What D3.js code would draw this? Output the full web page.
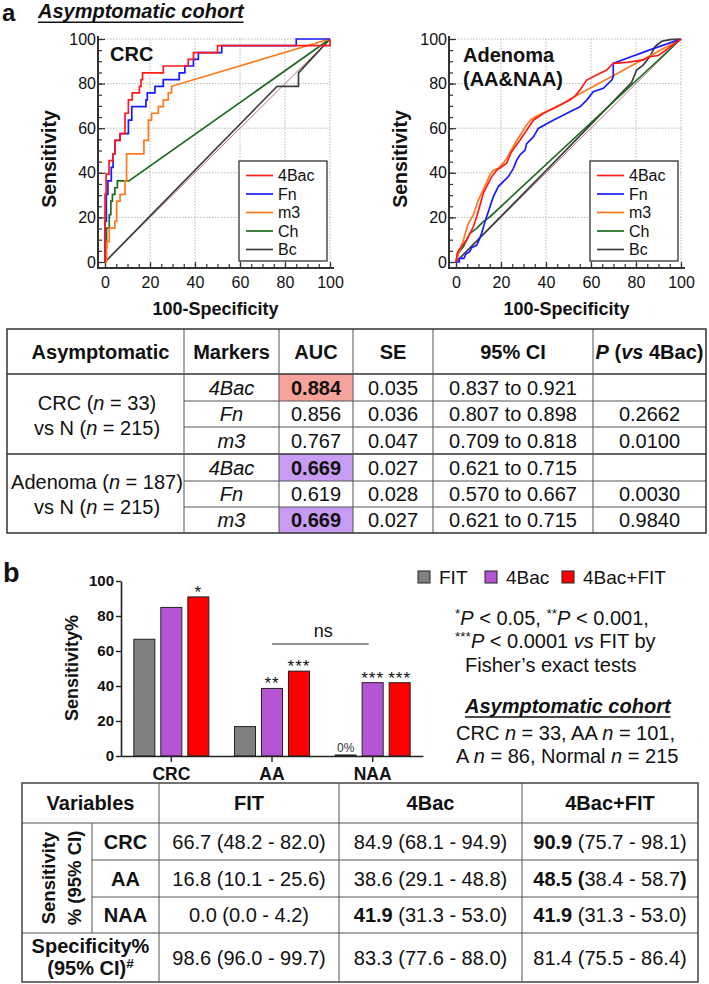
<!DOCTYPE html>
<html>
<head>
<meta charset="utf-8">
<script src="https://cdn.jsdelivr.net/npm/d3@7/dist/d3.min.js"></script>
<style>
  html, body { margin:0; padding:0; background:#fff; }
  svg { display:block; font-family:"Liberation Sans", Arial, Helvetica, sans-serif; }
  text { white-space: pre; }
</style>
</head>
<body>
<svg id="fig" width="709" height="984" viewBox="0 0 709 984"></svg>
<script>
// ================= DATA =================
const rocMarkers = ["4Bac", "Fn", "m3", "Ch", "Bc"];
const rocTicks = [0, 20, 40, 60, 80, 100];

// CRC vs N ROC curves: [100-specificity, sensitivity]
const crc4Bac = [[0,0],[0,30.3],[0.5,30.3],[0.5,39.4],[1.8,39.4],[1.8,45.5],[3.6,45.5],[3.6,48.5],[4.4,48.5],[4.4,54.5],[6.7,54.5],[6.7,57.6],[8.9,57.6],[8.9,66.7],[10.4,66.7],[10.4,72.7],[12.1,72.7],[12.1,75.8],[15.3,75.8],[15.3,78.8],[16.0,78.8],[16.0,81.8],[16.7,81.8],[16.7,84.8],[25.9,84.8],[25.9,87.9],[37.0,87.9],[37.0,90.9],[39.3,90.9],[39.3,93.9],[50.0,93.9],[50.0,97.0],[100,97.0],[100,100]];
const crcFn = [[0,0],[0,18.2],[0.6,18.2],[0.6,30.3],[1.3,30.3],[1.3,36.4],[2.8,36.4],[2.8,42.4],[3.6,42.4],[3.6,48.5],[4.4,48.5],[4.4,54.5],[6.7,54.5],[6.7,57.6],[10.4,57.6],[10.4,63.6],[11.9,63.6],[11.9,69.7],[18.2,69.7],[18.2,72.7],[18.8,72.7],[18.8,75.8],[22.2,75.8],[22.2,78.8],[25.9,78.8],[25.9,81.8],[33.0,81.8],[33.0,84.8],[35.5,84.8],[35.5,87.9],[39.3,87.9],[39.3,90.9],[41.5,90.9],[41.5,93.9],[51.9,93.9],[51.9,97.0],[85.0,97.0],[85.0,100],[100,100]];
const crcM3 = [[0,0],[0.7,0],[0.7,9.1],[1.9,9.1],[1.9,15.2],[4.4,15.2],[4.4,18.2],[5.2,18.2],[5.2,27.3],[6.7,27.3],[6.7,30.3],[8.9,30.3],[8.9,36.4],[9.6,36.4],[9.6,48.5],[17.3,48.5],[17.3,54.5],[19.3,54.5],[19.3,63.6],[20.7,63.6],[20.7,66.7],[23.7,66.7],[23.7,69.7],[25.9,69.7],[25.9,72.7],[28.1,72.7],[28.1,75.8],[29.6,75.8],[29.6,78.8],[100,100]];
const crcCh = [[0,0],[0.4,0],[0.4,6.1],[0.7,6.1],[0.7,15.2],[1.9,15.2],[1.9,21.2],[2.6,21.2],[2.6,27.3],[3.3,27.3],[3.3,30.3],[4.4,30.3],[4.4,33.3],[5.5,33.3],[5.5,36.4],[10.6,36.4],[100,100]];
const crcBc = [[0,0],[76.5,78.8],[86.0,78.8],[86.0,84.8],[100,100]];

// Adenoma vs N ROC curves
const ad4Bac = [[0,0],[0.5,3.7],[1.2,5.3],[2.5,6.9],[4.7,9.9],[6.2,12.8],[7.7,15.8],[9.2,20.3],[10.7,25.6],[12.1,30.8],[13.6,33.8],[15.9,38.3],[18.1,41.2],[20.3,42.7],[22.5,44.3],[24.3,48.7],[26.5,52.0],[28.4,54.6],[31.4,59.1],[34.4,63.6],[38.8,66.6],[44.7,69.6],[50.6,72.6],[53.0,74.5],[55.1,77.1],[58.1,81.6],[62.5,83.9],[67.0,86.1],[69.9,89.1],[76.0,89.5],[83.3,90.6],[86.2,92.1],[90.0,92.6],[100,100]];
const adFn = [[0,0],[1.5,0],[1.5,1.6],[3.5,1.6],[4.5,3.7],[6.0,4.5],[7.0,6.5],[9.2,7.5],[10.3,10.0],[11.4,12.9],[12.9,18.1],[14.4,22.6],[16.6,29.3],[18.8,33.8],[21.0,36.0],[23.3,38.3],[25.5,42.0],[27.0,45.7],[28.4,48.0],[30.7,50.2],[31.4,53.1],[34.4,56.1],[36.6,59.9],[40.3,62.0],[43.2,63.6],[47.6,65.8],[50.6,67.4],[55.1,69.6],[58.1,72.6],[61.0,76.4],[65.5,77.9],[69.2,81.6],[69.9,83.0],[69.9,89.1],[87.7,95.7],[100,100]];
const adM3 = [[0,0],[0.9,3.0],[1.8,5.4],[3.2,9.5],[4.5,14.0],[5.5,17.3],[7.7,21.0],[9.9,27.8],[12.1,32.3],[15.1,39.0],[16.6,41.2],[18.8,42.0],[21.0,44.3],[23.0,47.2],[25.0,51.0],[27.0,54.5],[29.0,57.5],[31.0,61.0],[33.5,64.0],[36.0,65.5],[40.0,67.5],[43.5,69.0],[47.5,71.0],[50.5,73.0],[100,100]];
const adCh = [[0,0],[1.0,3.9],[3.3,6.9],[6.2,12.9],[9.2,15.1],[12.1,18.1],[15.1,20.3],[100,100]];
const adBc = [[0,0],[42.0,43.0],[78.0,80.5],[78.8,82.4],[80.3,86.1],[83.3,88.4],[86.2,92.2],[88.5,96.6],[91.4,99.0],[95.1,99.7],[100,100]];
const refDiagonal = [[0,0],[100,100]];

// Table a
const tblAHead = ["Asymptomatic", "Markers", "AUC", "SE", "95% CI", "P (vs 4Bac)"];
const tblAMarkers = ["4Bac", "Fn", "m3", "4Bac", "Fn", "m3"];
const tblAAuc = ["0.884", "0.856", "0.767", "0.669", "0.619", "0.669"];
const tblAAucMark = [1, 0, 0, 2, 0, 2];
const tblASe = ["0.035", "0.036", "0.047", "0.027", "0.028", "0.027"];
const tblACi = ["0.837 to 0.921", "0.807 to 0.898", "0.709 to 0.818", "0.621 to 0.715", "0.570 to 0.667", "0.621 to 0.715"];
const tblAP = ["", "0.2662", "0.0100", "", "0.0030", "0.9840"];

// Bar chart b
const barCategories = ["CRC", "AA", "NAA"];
const barSeries = ["FIT", "4Bac", "4Bac+FIT"];
const fitSens = [66.7, 16.8, 0.0];
const bacSens = [84.9, 38.6, 41.9];
const comboSens = [90.9, 48.5, 41.9];
const fitStars = ["", "", ""];
const bacStars = ["", "**", "***"];
const comboStars = ["*", "***", "***"];
const barTicks = [0, 20, 40, 60, 80, 100];

// Table b
const tblBCols = ["FIT", "4Bac", "4Bac+FIT"];
const tblBRows = ["CRC", "AA", "NAA"];
const estFIT = ["66.7", "16.8", "0.0", "98.6"];
const ciFIT = ["48.2 - 82.0", "10.1 - 25.6", "0.0 - 4.2", "96.0 - 99.7"];
const est4Bac = ["84.9", "38.6", "41.9", "83.3"];
const ci4Bac = ["68.1 - 94.9", "29.1 - 48.8", "31.3 - 53.0", "77.6 - 88.0"];
const estCombo = ["90.9", "48.5", "41.9", "81.4"];
const ciCombo = ["75.7 - 98.1", "38.4 - 58.7", "31.3 - 53.0", "75.5 - 86.4"];
const boldFIT = [0, 0, 0, 0];
const bold4Bac = [0, 0, 1, 0];
const boldCombo = [1, 2, 1, 0];

// ================= DRAWING =================
const svg = d3.select("#fig");
svg.append("rect").attr("width", 709).attr("height", 984).attr("fill", "#fff");
const INK = "#111";

function rich(parent, x, y, parts, o = {}) {
  const size = o.size || 20;
  const t = parent.append("text").attr("x", x).attr("y", y)
    .attr("text-anchor", o.anchor || "start")
    .attr("font-size", size).attr("fill", o.fill || INK)
    .attr("font-weight", o.weight || "normal");
  if (o.transform) t.attr("transform", o.transform);
  let raised = 0;
  parts.forEach(p => {
    const [s, st] = typeof p === "string" ? [p, ""] : p;
    const ts = t.append("tspan").text(s);
    if (st.includes("i")) ts.attr("font-style", "italic");
    if (st.includes("b")) ts.attr("font-weight", "bold");
    if (st.includes("n")) ts.attr("font-weight", "normal");
    const sup = st.includes("^");
    const target = sup ? Math.round(size * 0.33) : 0;
    if (target !== raised) { ts.attr("dy", raised - target); raised = target; }
    if (sup) ts.attr("font-size", size * 0.68);
  });
  return t;
}

// ---- panel labels ----
svg.append("text").attr("x", 2).attr("y", 21).attr("font-size", 24).attr("font-weight", "bold").attr("fill", INK).text("a");
svg.append("text").attr("x", 3).attr("y", 582).attr("font-size", 27).attr("font-weight", "bold").attr("fill", INK).text("b");

function underlinedTitle(x, y) {
  const t = svg.append("text").attr("x", x).attr("y", y).attr("font-size", 20)
    .attr("font-weight", "bold").attr("font-style", "italic").attr("fill", INK).text("Asymptomatic cohort");
  const w = t.node().getComputedTextLength();
  svg.append("line").attr("x1", x).attr("x2", x + w).attr("y1", y + 4).attr("y2", y + 4)
    .attr("stroke", INK).attr("stroke-width", 1.6);
}
underlinedTitle(38, 18.2);

// ---- ROC panels ----
const rocColors = {"4Bac": "#ff1a1a", "Fn": "#1a1aff", "m3": "#ff7a1a", "Ch": "#1e6b1e", "Bc": "#3d3d3d"};

function rocPanel(o) {
  const g = svg.append("g");
  const x = d3.scaleLinear().domain([0, 100]).range([o.x0, o.x0 + 225]);
  const y = d3.scaleLinear().domain([0, 100]).range([262, 39]);
  const axX = o.x0 - 7, axY = 268;

  // dotted grid
  g.selectAll(null).data(rocTicks.slice(1)).join("line")
    .attr("x1", axX).attr("x2", x(100)).attr("y1", d => y(d)).attr("y2", d => y(d))
    .attr("stroke", "#b8b8b8").attr("stroke-width", 1).attr("stroke-dasharray", "1.5,1.5");
  g.selectAll(null).data(rocTicks.slice(1)).join("line")
    .attr("x1", d => x(d)).attr("x2", d => x(d)).attr("y1", y(100)).attr("y2", axY)
    .attr("stroke", "#b8b8b8").attr("stroke-width", 1).attr("stroke-dasharray", "1.5,1.5");

  // minor ticks (inward)
  const gyMin = g.append("g").attr("transform", `translate(${axX},0)`)
    .call(d3.axisLeft(y).ticks(20).tickSize(-4).tickSizeOuter(0).tickFormat(""));
  const gxMin = g.append("g").attr("transform", `translate(0,${axY})`)
    .call(d3.axisBottom(x).ticks(20).tickSize(-4).tickSizeOuter(0).tickFormat(""));
  // major ticks
  const gy = g.append("g").attr("transform", `translate(${axX},0)`)
    .call(d3.axisLeft(y).tickValues(rocTicks).tickSize(-7).tickSizeOuter(0).tickPadding(2));
  const gx = g.append("g").attr("transform", `translate(0,${axY})`)
    .call(d3.axisBottom(x).tickValues(rocTicks).tickSize(-6).tickSizeOuter(0).tickPadding(9));
  [gyMin, gxMin, gy, gx].forEach(a => {
    a.select(".domain").remove();
    a.selectAll(".tick line").attr("stroke", "#333").attr("stroke-width", 1.2);
    a.selectAll("text").attr("font-size", 16).attr("fill", INK).attr("font-family", null);
  });
  // axis lines
  g.append("line").attr("x1", axX).attr("x2", axX).attr("y1", 36).attr("y2", axY)
    .attr("stroke", "#333").attr("stroke-width", 2);
  g.append("line").attr("x1", axX - 1).attr("x2", x(100) + 4).attr("y1", axY).attr("y2", axY)
    .attr("stroke", "#333").attr("stroke-width", 2);

  // curves
  const line = d3.line().x(d => x(d[0])).y(d => y(d[1]));
  g.append("path").attr("d", line(refDiagonal)).attr("fill", "none")
    .attr("stroke", "#b07a7a").attr("stroke-width", 1);
  const order = ["Bc", "Ch", "m3", "Fn", "4Bac"];
  order.forEach(m => {
    g.append("path").attr("d", line(o.curves[m])).attr("fill", "none")
      .attr("stroke", rocColors[m]).attr("stroke-width", 1.7).attr("stroke-linejoin", "miter");
  });

  // title
  o.title.forEach((t, i) => {
    g.append("text").attr("x", o.x0 + o.titleDx).attr("y", o.titleY + i * 24)
      .attr("font-size", 20).attr("font-weight", "bold").attr("fill", INK).text(t);
  });

  // legend
  const lx = o.x0 + 134, ly = 161;
  g.append("rect").attr("x", lx).attr("y", ly).attr("width", 88).attr("height", 100)
    .attr("fill", "#fff").attr("stroke", "#333").attr("stroke-width", 1.3);
  const li = g.selectAll(null).data(rocMarkers).join("g")
    .attr("transform", (d, i) => `translate(${lx},${ly + 14.5 + i * 18.5})`);
  li.append("line").attr("x1", 7).attr("x2", 34).attr("stroke", d => rocColors[d]).attr("stroke-width", 1.7);
  li.append("text").attr("x", 39).attr("dy", "0.35em").attr("font-size", 16).attr("fill", INK).text(d => d);

  // axis titles
  g.append("text").attr("transform", `translate(${axX - 42},159) rotate(-90)`)
    .attr("text-anchor", "middle").attr("font-size", 19.5).attr("font-weight", "bold")
    .attr("fill", INK).text("Sensitivity");
  g.append("text").attr("x", x(50) - 2).attr("y", 315).attr("text-anchor", "middle")
    .attr("font-size", 18).attr("font-weight", "bold").attr("fill", INK).text("100-Specificity");
}

rocPanel({x0: 105, title: ["CRC"], titleDx: 5, titleY: 61,
  curves: {"4Bac": crc4Bac, "Fn": crcFn, "m3": crcM3, "Ch": crcCh, "Bc": crcBc}});
rocPanel({x0: 456, title: ["Adenoma", "(AA&NAA)"], titleDx: 7, titleY: 62,
  curves: {"4Bac": ad4Bac, "Fn": adFn, "m3": adM3, "Ch": adCh, "Bc": adBc}});

// ---- Table a ----
(function () {
  const g = svg.append("g");
  const cols = [7, 184, 279, 353, 433, 593, 706];
  const rows = [329, 374, 401, 427, 454, 481, 507, 533];
  const markFill = {1: "#f6a39c", 2: "#c99cf3"};
  tblAAucMark.forEach((m, i) => {
    if (!m) return;
    g.append("rect").attr("x", cols[2]).attr("y", rows[i + 1]).attr("width", cols[3] - cols[2])
      .attr("height", rows[i + 2] - rows[i + 1]).attr("fill", markFill[m]);
  });
  const LC = "#555";
  [2, 3, 5, 6].forEach(r => g.append("line").attr("x1", cols[1]).attr("x2", cols[6])
    .attr("y1", rows[r]).attr("y2", rows[r]).attr("stroke", LC).attr("stroke-width", 1));
  [1, 4].forEach(r => g.append("line").attr("x1", cols[0]).attr("x2", cols[6])
    .attr("y1", rows[r]).attr("y2", rows[r]).attr("stroke", "#333").attr("stroke-width", 1.5));
  cols.slice(1, 6).forEach(c => g.append("line").attr("x1", c).attr("x2", c)
    .attr("y1", rows[0]).attr("y2", rows[7]).attr("stroke", LC).attr("stroke-width", 1));
  g.append("rect").attr("x", cols[0]).attr("y", rows[0]).attr("width", cols[6] - cols[0])
    .attr("height", rows[7] - rows[0]).attr("fill", "none").attr("stroke", "#333").attr("stroke-width", 1.5);

  const cx = i => (cols[i] + cols[i + 1]) / 2;
  const hb = (rows[0] + rows[1]) / 2 + 7;
  tblAHead.forEach((h, i) => {
    if (i === 5) {
      rich(g, cx(i), hb, [["P", "i"], " (", ["vs", "i"], " 4Bac)"], {anchor: "middle", weight: "bold"});
    } else {
      rich(g, cx(i) + (i === 0 ? 5 : 0), hb, [h], {anchor: "middle", weight: "bold"});
    }
  });
  for (let i = 0; i < 6; i++) {
    const b = (rows[i + 1] + rows[i + 2]) / 2 + 7;
    rich(g, cx(1), b, [[tblAMarkers[i], "i"]], {anchor: "middle"});
    rich(g, cx(2), b, [tblAAuc[i]], {anchor: "middle", weight: tblAAucMark[i] ? "bold" : "normal"});
    rich(g, cx(3), b, [tblASe[i]], {anchor: "middle"});
    rich(g, cx(4), b, [tblACi[i]], {anchor: "middle"});
    if (tblAP[i]) rich(g, cx(5), b, [tblAP[i]], {anchor: "middle"});
  }
  rich(g, 97, 410, ["CRC (", ["n", "i"], " = 33)"], {anchor: "middle"});
  rich(g, 97, 435, ["vs N (", ["n", "i"], " = 215)"], {anchor: "middle"});
  rich(g, 97, 489, ["Adenoma (", ["n", "i"], " = 187)"], {anchor: "middle"});
  rich(g, 97, 514, ["vs N (", ["n", "i"], " = 215)"], {anchor: "middle"});
})();

// ---- Bar chart b ----
(function () {
  const g = svg.append("g");
  const yb = d3.scaleLinear().domain([0, 100]).range([756, 581]);
  const x0 = d3.scaleBand().domain(barCategories).range([121, 423]);
  const x1 = d3.scaleBand().domain(barSeries).range([0, x0.bandwidth()]).paddingInner(0.222).paddingOuter(0.475);
  const barColors = {"FIT": "#808080", "4Bac": "#b455d6", "4Bac+FIT": "#ff0000"};
  const seriesVals = {"FIT": fitSens, "4Bac": bacSens, "4Bac+FIT": comboSens};
  const seriesStars = {"FIT": fitStars, "4Bac": bacStars, "4Bac+FIT": comboStars};

  const recs = [];
  barCategories.forEach((c, ci) => barSeries.forEach(s => recs.push({c, s, v: seriesVals[s][ci], star: seriesStars[s][ci]})));

  g.selectAll(null).data(recs).join("rect")
    .attr("x", d => x0(d.c) + x1(d.s)).attr("width", x1.bandwidth())
    .attr("y", d => Math.min(yb(d.v), yb(0) - 1)).attr("height", d => Math.max(yb(0) - yb(d.v), 1))
    .attr("fill", d => barColors[d.s]).attr("stroke", "#222").attr("stroke-width", 1);

  g.selectAll(null).data(recs.filter(d => d.star)).join("text")
    .attr("x", d => x0(d.c) + x1(d.s) + x1.bandwidth() / 2).attr("y", d => yb(d.v) + 1)
    .attr("text-anchor", "middle").attr("font-size", 17).attr("letter-spacing", 1).attr("fill", INK)
    .text(d => d.star);

  g.selectAll(null).data(recs.filter(d => d.v === 0)).join("text")
    .attr("x", d => x0(d.c) + x1(d.s) + x1.bandwidth() / 2).attr("y", d => yb(d.v) - 4)
    .attr("text-anchor", "middle").attr("font-size", 12).attr("fill", "#333").text(d => d.v + "%");

  const ay = g.append("g").attr("transform", "translate(121,0)")
    .call(d3.axisLeft(yb).tickValues(barTicks).tickSize(5).tickSizeOuter(0).tickPadding(2));
  ay.select(".domain").attr("stroke", "#222").attr("stroke-width", 1.6);
  ay.selectAll(".tick line").attr("stroke", "#222").attr("stroke-width", 1.4);
  ay.selectAll("text").attr("font-size", 15).attr("font-weight", "bold").attr("fill", INK).attr("font-family", null);

  const ax = g.append("g").attr("transform", "translate(0,756)")
    .call(d3.axisBottom(x0).tickSize(6).tickSizeOuter(0).tickPadding(6));
  ax.select(".domain").attr("stroke", "#222").attr("stroke-width", 1.6);
  ax.selectAll(".tick line").attr("stroke", "#222").attr("stroke-width", 1.4);
  ax.selectAll("text").attr("font-size", 17.5).attr("font-weight", "bold").attr("fill", INK).attr("font-family", null);

  g.append("text").attr("transform", "translate(72,668) rotate(-90)").attr("text-anchor", "middle")
    .attr("dy", "0.35em").attr("font-size", 18).attr("font-weight", "bold").attr("fill", INK).text("Sensitivity%");

  const nsX1 = x0("AA") + x0.bandwidth() / 2, nsX2 = x0("NAA") + x0.bandwidth() / 2 - 4;
  g.append("line").attr("x1", nsX1).attr("x2", nsX2).attr("y1", 644).attr("y2", 644)
    .attr("stroke", "#222").attr("stroke-width", 1.2);
  g.append("text").attr("x", (nsX1 + nsX2) / 2 + 3).attr("y", 637).attr("text-anchor", "middle")
    .attr("font-size", 18).attr("fill", INK).text("ns");

  const lg = g.selectAll(null).data(barSeries).join("g")
    .attr("transform", (d, i) => `translate(${[418, 485, 562][i]},571)`);
  lg.append("rect").attr("width", 12).attr("height", 12).attr("fill", d => barColors[d])
    .attr("stroke", "#222").attr("stroke-width", 1);
  lg.append("text").attr("x", 21).attr("y", 12.5).attr("font-size", 19).attr("fill", INK).text(d => d);

  rich(svg, 455, 625, [["*", "^"], ["P", "i"], " < 0.05, ", ["**", "^"], ["P", "i"], " < 0.001,"], {size: 20});
  rich(svg, 455, 648, [["***", "^"], ["P", "i"], " < 0.0001 ", ["vs", "i"], " FIT by"], {size: 20});
  rich(svg, 465, 672, ["Fisher\u2019s exact tests"], {size: 20});
  underlinedTitle(465, 713);
  rich(svg, 456, 740, ["CRC ", ["n", "i"], " = 33, AA ", ["n", "i"], " = 101,"], {size: 20});
  rich(svg, 456, 763, ["A ", ["n", "i"], " = 86, Normal ", ["n", "i"], " = 215"], {size: 20});
})();

// ---- Table b ----
(function () {
  const g = svg.append("g");
  const cols = [22, 92, 159, 339, 522, 698];
  const rows = [783, 823, 860, 897, 933, 982];
  const LC = "#555";
  [2, 3].forEach(r => g.append("line").attr("x1", cols[1]).attr("x2", cols[5])
    .attr("y1", rows[r]).attr("y2", rows[r]).attr("stroke", LC).attr("stroke-width", 1));
  [1, 4].forEach(r => g.append("line").attr("x1", cols[0]).attr("x2", cols[5])
    .attr("y1", rows[r]).attr("y2", rows[r]).attr("stroke", LC).attr("stroke-width", 1.2));
  g.append("line").attr("x1", cols[1]).attr("x2", cols[1]).attr("y1", rows[1]).attr("y2", rows[4])
    .attr("stroke", LC).attr("stroke-width", 1);
  cols.slice(2, 5).forEach(c => g.append("line").attr("x1", c).attr("x2", c)
    .attr("y1", rows[0]).attr("y2", rows[5]).attr("stroke", LC).attr("stroke-width", 1));
  g.append("rect").attr("x", cols[0]).attr("y", rows[0]).attr("width", cols[5] - cols[0])
    .attr("height", rows[5] - rows[0]).attr("fill", "none").attr("stroke", "#444").attr("stroke-width", 1.5);

  const hb = (rows[0] + rows[1]) / 2 + 7;
  rich(g, (cols[0] + cols[2]) / 2, hb, ["Variables"], {anchor: "middle", weight: "bold"});
  tblBCols.forEach((c, i) => rich(g, (cols[i + 2] + cols[i + 3]) / 2, hb, [c], {anchor: "middle", weight: "bold"}));

  const midY = (rows[1] + rows[4]) / 2;
  rich(g, 0, 0, ["Sensitivity"], {anchor: "middle", weight: "bold", size: 18.5, transform: `translate(55,${midY}) rotate(-90)`});
  rich(g, 0, 0, ["% (95% CI)"], {anchor: "middle", weight: "bold", size: 18.5, transform: `translate(81,${midY}) rotate(-90)`});
  tblBRows.forEach((r, i) => rich(g, (cols[1] + cols[2]) / 2, (rows[i + 1] + rows[i + 2]) / 2 + 7, [r], {anchor: "middle", weight: "bold"}));
  rich(g, (cols[0] + cols[2]) / 2, 953, ["Specificity%"], {anchor: "middle", weight: "bold"});
  rich(g, (cols[0] + cols[2]) / 2, 975, ["(95% CI)", ["#", "^"]], {anchor: "middle", weight: "bold"});

  const colData = [[estFIT, ciFIT, boldFIT], [est4Bac, ci4Bac, bold4Bac], [estCombo, ciCombo, boldCombo]];
  colData.forEach(([est, ci, bold], j) => {
    const cxv = (cols[j + 2] + cols[j + 3]) / 2;
    for (let i = 0; i < 4; i++) {
      const b = (rows[i + 1] + rows[i + 2]) / 2 + 7;
      let parts;
      if (bold[i] === 2) parts = [[est[i] + " (", "b"], ci[i], [")", "b"]];
      else if (bold[i] === 1) parts = [[est[i], "b"], " (" + ci[i] + ")"];
      else parts = [est[i] + " (" + ci[i] + ")"];
      rich(g, cxv, b, parts, {anchor: "middle"});
    }
  });
})();
</script>
</body>
</html>
